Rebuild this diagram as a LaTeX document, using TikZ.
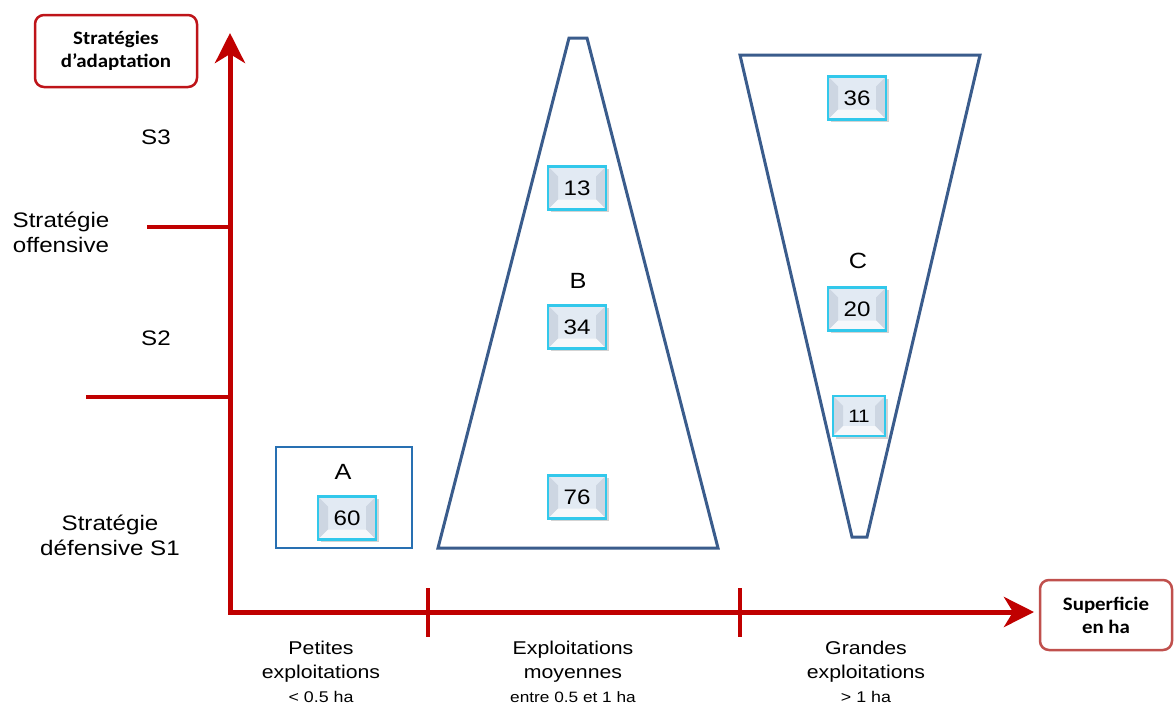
\documentclass[tikz,border=0pt]{standalone}
\usepackage{fontspec}
\setmainfont{Liberation Sans}[FakeStretch=1.15]
\newfontfamily\hdfont{Carlito}[FakeStretch=1.1]
\usetikzlibrary{arrows.meta,shadows}
\definecolor{axred}{RGB}{192,0,0}
\definecolor{hdred}{RGB}{190,20,25}
\definecolor{supred}{RGB}{192,80,77}
\definecolor{boxblue}{RGB}{40,112,178}
\definecolor{slate}{RGB}{58,92,140}
\definecolor{valcyan}{RGB}{50,200,235}
\definecolor{valfill}{RGB}{226,234,243}
\definecolor{valside}{RGB}{205,214,226}
\tikzset{
  axis/.style={axred, line width=5pt, line join=miter},
  tick/.style={axred, line width=4.5pt},
  hdbox/.style={draw=hdred, line width=2.5pt, rounded corners=9pt, fill=white, align=center,
     font=\hdfont\bfseries\fontsize{19}{23}\selectfont, minimum width=162pt, minimum height=72pt},
  valbox/.style={draw=valcyan, line width=2.2pt, minimum width=58pt, minimum height=43pt,
     fill=valfill, font=\fontsize{21}{24}\selectfont,
     drop shadow={opacity=0.35, shadow xshift=2.5pt, shadow yshift=-2.5pt},
     path picture={
       \fill[valside] (path picture bounding box.north west) -- ([xshift=10pt,yshift=-10pt]path picture bounding box.north west) -- ([xshift=10pt,yshift=10pt]path picture bounding box.south west) -- (path picture bounding box.south west) -- cycle;
       \fill[valside] (path picture bounding box.north east) -- ([xshift=-10pt,yshift=-10pt]path picture bounding box.north east) -- ([xshift=-10pt,yshift=10pt]path picture bounding box.south east) -- (path picture bounding box.south east) -- cycle;
       \fill[white,opacity=0.7] (path picture bounding box.south west) -- ([xshift=10pt,yshift=10pt]path picture bounding box.south west) -- ([xshift=-10pt,yshift=10pt]path picture bounding box.south east) -- (path picture bounding box.south east) -- cycle;
     }},
  lbl/.style={font=\fontsize{21}{25}\selectfont, align=center},
  letter/.style={font=\fontsize{22}{24}\selectfont},
  bot/.style={font=\fontsize{18.5}{24}\selectfont, align=center},
}
\begin{document}
\begin{tikzpicture}[x=1pt,y=-1pt]
\useasboundingbox (0,0) rectangle (1174,704);
% axes
\coordinate (ytip) at (230,33);
\coordinate (O) at (230,612);
\coordinate (xtip) at (1034,612);
\draw[axis, {Stealth[length=30pt,width=30pt,inset=9pt]}-{Stealth[length=30pt,width=30pt,inset=9pt]}] (ytip) -- (O) -- (xtip);
% ticks on x axis
\coordinate (t1a) at (428,588); \coordinate (t1b) at (428,637);
\coordinate (t2a) at (740,588); \coordinate (t2b) at (740,637);
\draw[tick] (t1a) -- (t1b);
\draw[tick] (t2a) -- (t2b);
% ticks on y axis
\coordinate (h1a) at (147,227); \coordinate (h1b) at (230,227);
\coordinate (h2a) at (86,397); \coordinate (h2b) at (230,397);
\draw[tick] (h1a) -- (h1b);
\draw[tick] (h2a) -- (h2b);
% header boxes
\node[hdbox] (strat) at (116,51) {Stratégies\\d’adaptation};
\node[hdbox, draw=supred, minimum width=132pt, minimum height=70pt] (sup) at (1106,615) {Superficie\\en ha};
% left labels
\node[lbl] (s3) at (156,137) {S3};
\node[lbl] (off) at (61,232) {Stratégie\\offensive};
\node[lbl] (s2) at (156,338) {S2};
\node[lbl] (def) at (110,535) {Stratégie\\défensive S1};
% shapes
\draw[boxblue, line width=2.5pt] (276,447) rectangle (412,548);
\draw[slate, line width=3pt, line join=miter] (438,548) -- (569,38) -- (587,38) -- (718,548) -- cycle;
\draw[slate, line width=3pt, line join=miter] (740,55) -- (980,55) -- (867,537) -- (852,537) -- cycle;
% letters
\node[letter] (A) at (343,472) {A};
\node[letter] (B) at (578,281) {B};
\node[letter] (C) at (858,261) {C};
% values
\node[valbox] (v60) at (347,518) {60};
\node[valbox] (v13) at (577,188) {13};
\node[valbox] (v34) at (577,327) {34};
\node[valbox] (v76) at (577,497) {76};
\node[valbox] (v36) at (857,98) {36};
\node[valbox] (v20) at (857,309) {20};
\node[valbox, minimum width=52pt, minimum height=40pt, font=\fontsize{18}{20}\selectfont] (v11) at (859,416) {11};
% bottom labels
\node[bot] (pet) at (321,672) {Petites\\exploitations\\{\fontsize{15.5}{18}\selectfont < 0.5 ha}};
\node[bot] (moy) at (573,672) {Exploitations\\moyennes\\{\fontsize{15}{18}\selectfont entre 0.5 et 1 ha}};
\node[bot] (gra) at (866,672) {Grandes\\exploitations\\{\fontsize{15.5}{18}\selectfont > 1 ha}};
\end{tikzpicture}
\end{document}
